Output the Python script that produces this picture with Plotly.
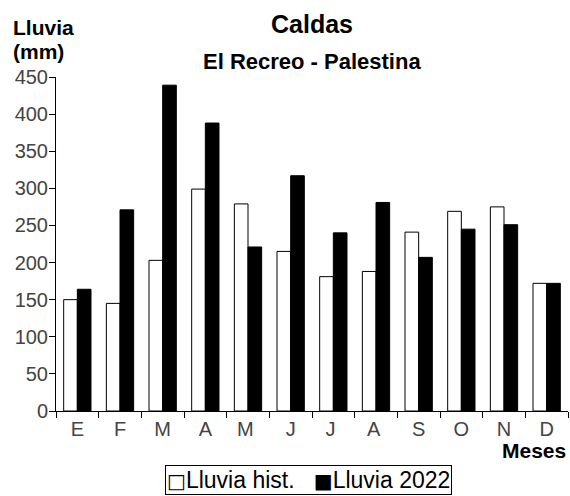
import plotly.graph_objects as go

# monthly rainfall, El Recreo - Palestina (Caldas)
meses = ["E", "F", "M", "A", "M ", "J", "J ", "A ", "S", "O", "N", "D"]
lluvia_hist = [150, 145, 203, 299, 279, 215, 181, 188, 241, 269, 275, 172]
lluvia_2022 = [164, 271, 439, 388, 221, 317, 240, 281, 207, 245, 251, 172]
y_ticks = [0, 50, 100, 150, 200, 250, 300, 350, 400, 450]

font_family = "Liberation Sans, Arial, sans-serif"

fig = go.Figure()
fig.add_trace(go.Bar(x=meses, y=lluvia_hist, name="Lluvia hist.",
                     marker=dict(color="white", line=dict(color="black", width=1))))
fig.add_trace(go.Bar(x=meses, y=lluvia_2022, name="Lluvia 2022",
                     marker=dict(color="black", line=dict(color="black", width=1))))

fig.update_xaxes(showline=True, linecolor="black", linewidth=1,
                 ticks="outside", tickson="boundaries", ticklen=6, tickcolor="black",
                 tickfont=dict(size=20, color="#444", family=font_family),
                 showgrid=False)
fig.update_yaxes(range=[0, 450], tickvals=y_ticks, showline=True, linecolor="black", linewidth=1,
                 ticks="outside", ticklen=6, tickcolor="black",
                 tickfont=dict(size=20, color="#444", family=font_family),
                 showgrid=False, zeroline=False, ticklabelstandoff=-3)

# titles and axis names
fig.add_annotation(text="<b>Caldas</b>", xref="paper", yref="paper", x=0.5, y=1.16,
                   xanchor="center", yanchor="middle", showarrow=False,
                   font=dict(size=25, color="black", family=font_family))
fig.add_annotation(text="<b>El Recreo - Palestina</b>", xref="paper", yref="paper", x=0.5, y=1.045,
                   xanchor="center", yanchor="middle", showarrow=False,
                   font=dict(size=22, color="black", family=font_family))
fig.add_annotation(text="<b>Lluvia</b>", xref="paper", yref="paper", x=-0.088, y=1.148,
                   xanchor="left", yanchor="middle", showarrow=False,
                   font=dict(size=21, color="black", family=font_family))
fig.add_annotation(text="<b>(mm)</b>", xref="paper", yref="paper", x=-0.088, y=1.075,
                   xanchor="left", yanchor="middle", showarrow=False,
                   font=dict(size=21, color="black", family=font_family))
fig.add_annotation(text="<b>Meses</b>", xref="paper", yref="paper", x=1.0, y=-0.117,
                   xanchor="right", yanchor="middle", showarrow=False,
                   font=dict(size=21, color="black", family=font_family))

# legend drawn as a boxed line of text, like the original
sq = '<span style="font-family:DejaVu Sans;font-size:20px">%s</span>'
legend_text = (sq % "\u25a1") + "Lluvia hist.\u00a0\u00a0\u00a0" + (sq % "\u25a0") + "Lluvia 2022"
fig.add_annotation(text=legend_text, xref="paper", yref="paper",
                   x=0.494, y=-0.207, xanchor="center", yanchor="middle", showarrow=False,
                   bordercolor="black", borderwidth=1, borderpad=1, bgcolor="white",
                   font=dict(size=23, color="black", family=font_family))

fig.update_layout(
    width=570, height=496,
    margin=dict(l=56, r=2, t=77, b=85),
    paper_bgcolor="white", plot_bgcolor="white",
    barmode="group", bargap=0.36, bargroupgap=0,
    showlegend=False,
)

fig.write_html("out.html", config={"displayModeBar": False},
               post_script="document.body.style.margin='0';")
